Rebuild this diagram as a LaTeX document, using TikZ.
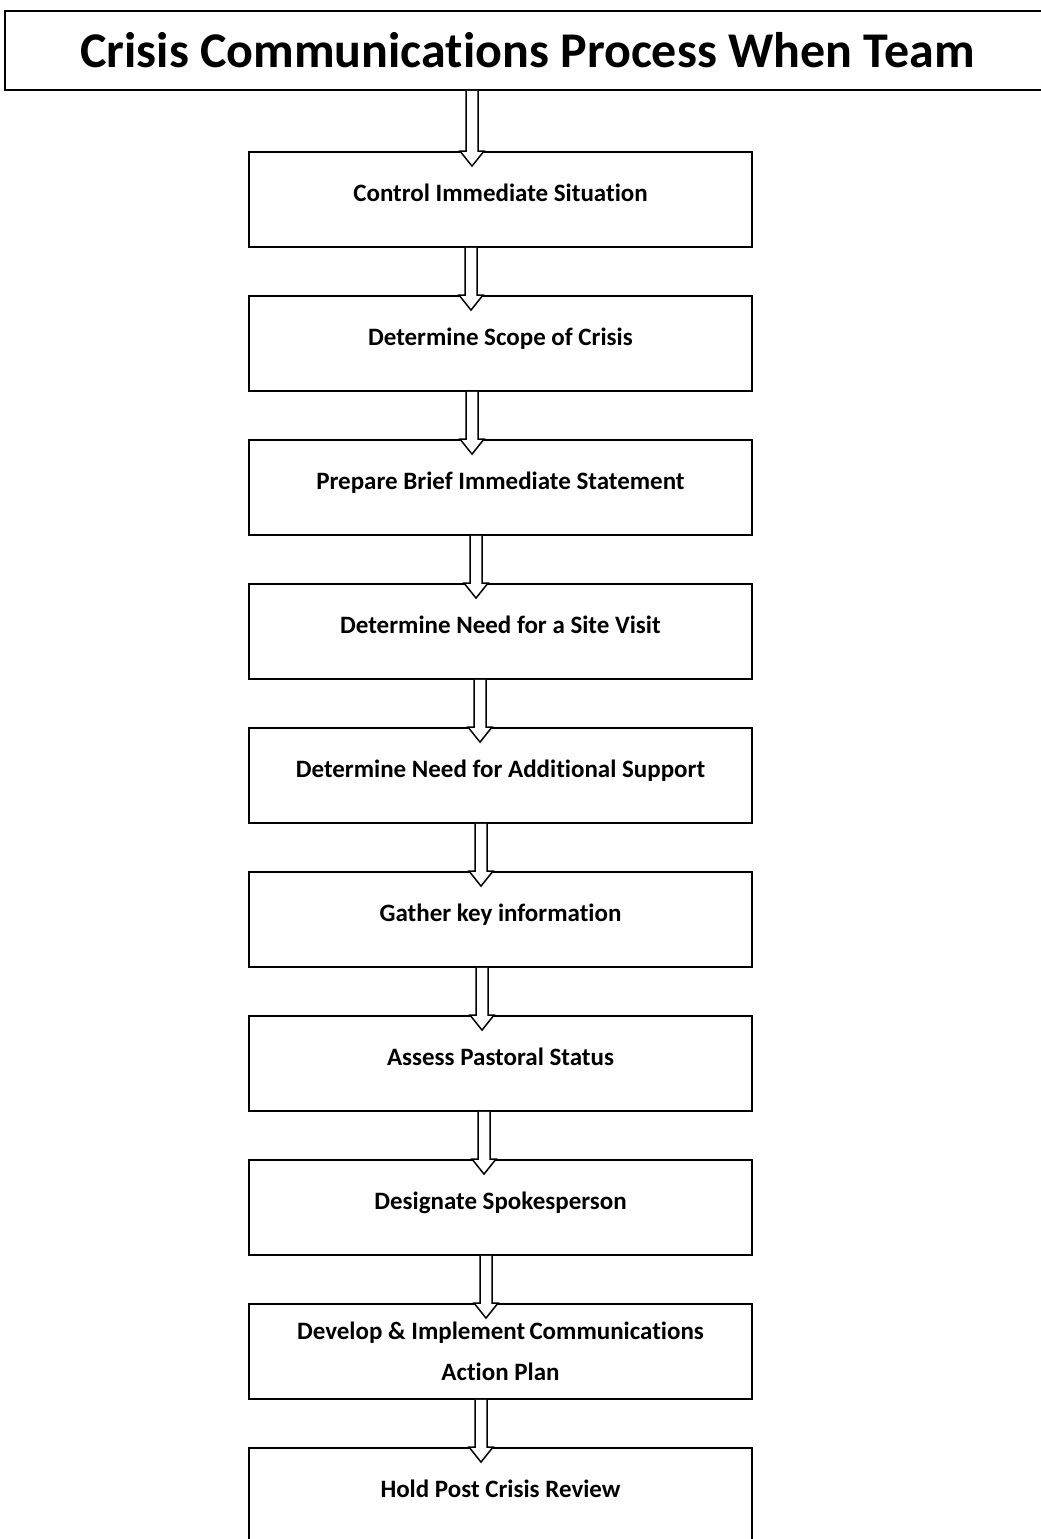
\documentclass[tikz,border=0pt]{standalone}
\usepackage{fontspec}
\setmainfont[Ligatures=NoCommon]{Carlito}
\usetikzlibrary{calc}

\tikzset{
  stepbox/.style={draw, line width=1.8pt, minimum width=503pt, minimum height=95pt,
    inner sep=0pt, text depth=14pt, font=\bfseries\fontsize{25}{29}\selectfont},
  titlebox/.style={draw, line width=1.5pt, minimum width=1045pt, minimum height=79pt,
    font=\bfseries\fontsize{50}{60}\selectfont},
  flow/.style={draw, fill=white, line width=1.5pt, line join=miter}
}
\newcommand{\flowarrow}[3]{%
  \draw[flow] ({#3-6},0 |- #1.south) -- ({#3-6},0 |- #2.north) -- ++(-6,0)
    -- ++(12,15) -- ++(12,-15) -- ++(-6,0) -- ({#3+6},0 |- #1.south);}

\begin{document}
\begin{tikzpicture}[x=1pt,y=-1pt]
\useasboundingbox[fill=white] (0,0) rectangle (1041,1539);

\node[titlebox] (title) at (527.5,50.5) {Crisis Communications Process When Team};
\node[stepbox] (control) at (500.5,199.5) {Control Immediate Situation};
\node[stepbox] (scope) at (500.5,343.5) {Determine Scope of Crisis};
\node[stepbox] (statement) at (500.5,487.5) {Prepare Brief Immediate Statement};
\node[stepbox] (visit) at (500.5,631.5) {Determine Need for a Site Visit};
\node[stepbox] (support) at (500.5,775.5) {Determine Need for Additional Support};
\node[stepbox] (gather) at (500.5,919.5) {Gather key information};
\node[stepbox] (pastoral) at (500.5,1063.5) {Assess Pastoral Status};
\node[stepbox] (spokes) at (500.5,1207.5) {Designate Spokesperson};
\node[stepbox, align=center, text depth=0pt, font=\bfseries\fontsize{25}{41}\selectfont] (plan) at (500.5,1351.5) {Develop \& Implement\,Communications\\Action Plan};
\node[stepbox] (review) at (500.5,1495.5) {Hold Post Crisis Review};

\flowarrow{title}{control}{472}
\flowarrow{control}{scope}{471}
\flowarrow{scope}{statement}{472}
\flowarrow{statement}{visit}{476}
\flowarrow{visit}{support}{480}
\flowarrow{support}{gather}{481}
\flowarrow{gather}{pastoral}{482}
\flowarrow{pastoral}{spokes}{484}
\flowarrow{spokes}{plan}{486}
\flowarrow{plan}{review}{481}
\end{tikzpicture}
\end{document}
